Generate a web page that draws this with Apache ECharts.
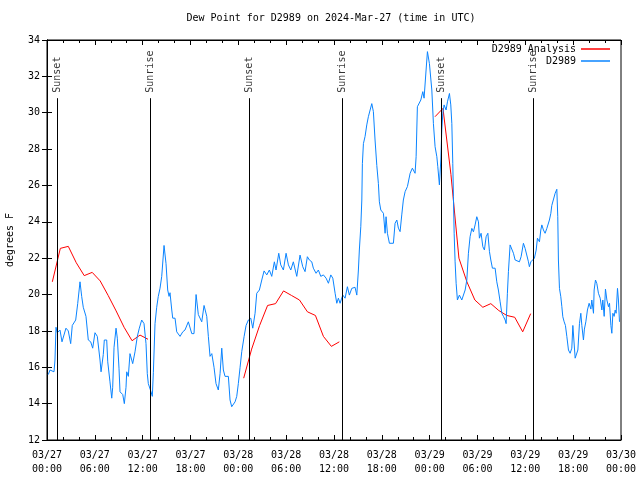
<!DOCTYPE html>
<html><head><meta charset="utf-8">
<script src="https://cdn.jsdelivr.net/npm/echarts@6/dist/echarts.min.js"></script>
<style>html,body{margin:0;padding:0;background:#fff}#c{width:640px;height:480px}</style>
</head><body><div id="c"></div>
<script>
// ---- data (x in hours since 2024-03-27 00:00 UTC) ----
const titleText = 'Dew Point for D2989 on 2024-Mar-27 (time in UTC)';
const yAxisName = 'degrees F';
const xTickLabels = ['03/27\n00:00','03/27\n06:00','03/27\n12:00','03/27\n18:00',
  '03/28\n00:00','03/28\n06:00','03/28\n12:00','03/28\n18:00',
  '03/29\n00:00','03/29\n06:00','03/29\n12:00','03/29\n18:00','03/30\n00:00'];
const seriesNames = ['D2989 Analysis', 'D2989'];
const eventNames = ['Sunset','Sunrise','Sunset','Sunrise','Sunset','Sunrise'];
const eventHours = [1.29, 12.96, 25.38, 37.05, 49.47, 61.0];

// Analysis: hourly values, three segments (null = break)
const redHours = [
  0.67,1.67,2.67,3.67,4.67,5.67,6.67,7.67,8.67,9.67,10.67,11.67,12.67, null,
  24.67,25.67,26.67,27.67,28.67,29.67,30.67,31.67,32.67,33.67,34.67,35.67,36.67, null,
  48.67,49.67,50.67,51.67,52.67,53.67,54.67,55.67,56.67,57.67,58.67,59.67,60.67];
const redValues = [
  20.7,22.54,22.65,21.75,21.04,21.22,20.75,19.95,19.1,18.2,17.46,17.77,17.54, null,
  15.4,17.0,18.3,19.4,19.5,20.2,19.95,19.7,19.05,18.85,17.7,17.15,17.4, null,
  29.78,30.24,26.6,22.0,20.7,19.7,19.3,19.5,19.12,18.85,18.75,17.95,18.95];

// Observations [hour, value]
const bluePoints = [
  [0.16,15.6],[0.38,15.85],[0.88,15.75],[1.0,16.4],[1.13,18.2],[1.29,17.9],[1.63,18.05],[1.88,17.4],
  [2.13,17.3],[2.38,18.15],[2.67,18.0],[2.97,17.3],[3.17,18.3],[3.6,18.6],[3.85,19.5],[4.14,20.7],
  [4.35,19.9],[4.55,19.3],[4.89,18.8],[5.18,17.5],[5.48,17.4],[5.73,17.05],[6.02,17.9],[6.31,17.7],
  [6.65,16.4],[6.78,15.75],[7.06,16.7],[7.19,17.5],[7.49,17.5],[7.62,16.3],[7.9,15.2],[8.12,14.3],
  [8.24,14.9],[8.41,17.1],[8.66,18.15],[8.82,17.6],[9.03,15.95],[9.16,14.65],[9.5,14.5],[9.7,14.0],
  [9.91,14.9],[10.0,15.75],[10.2,15.5],[10.41,16.75],[10.75,16.2],[11.04,16.85],[11.33,17.7],[11.58,18.15],
  [11.88,18.6],[12.17,18.4],[12.42,17.3],[12.58,15.65],[12.71,15.1],[12.92,15.1],[13.05,14.65],[13.21,14.4],
  [13.34,15.7],[13.55,18.4],[13.76,19.3],[13.96,19.9],[14.18,20.35],[14.39,21.0],[14.68,22.7],[14.93,21.7],
  [15.14,20.25],[15.31,19.9],[15.43,20.1],[15.65,19.15],[15.77,18.7],[16.06,18.7],[16.27,17.95],[16.69,17.7],
  [17.03,17.95],[17.31,18.05],[17.73,18.5],[17.94,18.5],[18.16,17.85],[18.44,17.85],[18.7,20.0],[18.98,18.9],
  [19.41,18.5],[19.7,19.4],[20.04,18.8],[20.24,17.7],[20.45,16.6],[20.67,16.75],[20.95,16.0],[21.2,15.1],
  [21.49,14.75],[21.71,15.65],[21.92,17.05],[22.12,15.85],[22.33,15.5],[22.75,15.5],[22.96,14.2],[23.17,13.83],
  [23.38,13.83],[23.59,14.1],[23.8,14.4],[24.0,15.1],[24.22,16.0],[24.43,16.86],[24.72,17.68],[24.97,18.3],
  [25.26,18.6],[25.56,18.7],[25.81,18.15],[26.1,18.97],[26.31,20.07],[26.64,20.25],[26.94,20.8],[27.23,21.3],
  [27.57,21.08],[27.89,21.35],[28.19,21.0],[28.52,21.8],[28.73,21.35],[29.07,22.27],[29.32,21.63],[29.65,21.35],
  [29.99,22.27],[30.28,21.63],[30.58,21.35],[30.9,21.8],[31.33,21.0],[31.74,22.17],[32.08,21.53],[32.37,21.26],
  [32.66,22.08],[32.91,21.9],[33.21,21.8],[33.41,21.45],[33.75,21.17],[34.04,21.35],[34.34,21.0],[34.67,21.08],
  [35.01,20.9],[35.3,20.62],[35.6,21.08],[35.85,20.9],[36.14,20.07],[36.35,19.52],[36.55,19.8],[36.76,19.52],
  [37.1,19.97],[37.39,19.8],[37.68,20.43],[37.93,19.97],[38.23,20.34],[38.64,20.4],[38.86,19.97],[39.06,21.35],
  [39.18,22.45],[39.36,23.73],[39.49,25.2],[39.56,27.2],[39.69,28.3],[39.9,28.7],[40.11,29.33],[40.31,29.78],
  [40.53,30.15],[40.74,30.5],[40.94,30.06],[41.15,28.5],[41.37,27.1],[41.57,26.1],[41.69,25.1],[41.87,24.65],
  [42.2,24.47],[42.41,23.37],[42.53,24.28],[42.7,23.37],[42.95,22.82],[43.45,22.82],[43.66,23.92],[43.88,24.1],
  [44.08,23.65],[44.29,23.46],[44.5,24.38],[44.7,25.2],[44.92,25.66],[45.21,25.94],[45.55,26.67],[45.83,26.95],
  [46.17,26.67],[46.3,27.58],[46.46,30.33],[46.71,30.3],[46.89,30.7],[47.14,31.16],[47.3,30.8],[47.55,32.35],
  [47.72,33.36],[47.97,32.7],[48.27,31.25],[48.47,29.4],[48.68,28.13],[48.9,27.58],[49.02,27.03],[49.22,26.03],
  [49.4,27.4],[49.52,29.05],[49.65,29.97],[49.81,30.43],[50.06,30.15],[50.23,30.6],[50.48,31.06],[50.65,30.43],
  [50.78,29.4],[50.9,27.2],[50.98,25.4],[51.07,23.37],[51.19,21.8],[51.32,20.62],[51.48,19.7],[51.73,19.97],
  [52.03,19.7],[52.23,19.7],[52.45,20.25],[52.66,20.8],[52.86,22.27],[53.07,23.18],[53.29,23.64],[53.49,23.45],
  [53.7,23.83],[53.91,24.28],[54.12,24.0],[54.24,23.1],[54.45,23.37],[54.67,22.63],[54.87,22.45],[55.08,23.18],
  [55.3,23.37],[55.5,22.36],[55.67,21.9],[55.87,21.45],[56.21,21.45],[56.42,20.7],[56.62,20.25],[56.84,19.6],
  [57.05,18.97],[57.25,18.8],[57.47,18.6],[57.59,18.4],[57.75,20.07],[57.88,21.26],[58.09,22.73],[58.3,22.8],
  [58.51,22.27],[58.72,21.9],[58.93,21.8],[59.26,21.8],[59.47,22.08],[59.76,22.82],[59.97,22.54],[60.19,22.54],
  [60.39,21.8],[60.51,21.53],[60.69,21.8],[60.94,21.8],[61.14,22.0],[61.36,22.45],[61.52,23.1],[61.77,22.9],
  [61.94,23.55],[62.07,23.83],[62.27,23.55],[62.48,23.37],[62.7,23.64],[63.02,24.1],[63.2,24.47],[63.32,24.9],
  [63.53,24.9],[63.74,25.57],[63.95,25.79],[64.07,24.28],[64.15,21.9],[64.28,20.34],[64.45,19.88],[64.58,19.33],
  [64.7,18.78],[64.87,18.5],[65.03,18.3],[65.21,17.68],[65.41,16.95],[65.62,16.77],[65.83,17.05],[65.96,18.3],
  [66.12,18.23],[66.25,16.5],[66.46,16.5],[66.59,16.95],[66.79,18.4],[66.96,18.97],[67.09,18.3],[67.29,17.5],
  [67.41,18.1],[67.59,18.5],[67.79,19.15],[68.0,19.52],[68.22,19.2],[68.34,19.7],[68.55,18.97],[68.63,20.25],
  [68.8,20.8],[68.97,20.6],[69.17,20.07],[69.39,19.8],[69.6,19.15],[69.72,19.7],[69.89,18.8],[70.05,20.3],
  [70.23,19.7],[70.43,19.33],[70.56,19.52],[70.73,18.3],[70.85,17.87],[70.98,18.97],[71.14,18.8],[71.27,19.15],
  [71.39,18.97],[71.56,20.34],[71.68,19.7],[71.81,18.5]];

const FONT = 'DejaVu Sans Mono';
const EVENT_LINE_TOP = 30.8, EVENT_LABEL_Y = 31.1;

// build analysis line data; null entries become gaps
const redData = [];
redHours.forEach((h, i) => {
  if (h === null) redData.push([redHours[i - 1], '-']);
  else redData.push([h, redValues[i]]);
});

const chart = echarts.init(document.getElementById('c'), null, {renderer: 'canvas'});
const txt = {fontFamily: FONT, fontSize: 10, color: '#000'};
const xCommon = {type: 'value', min: 0, max: 72, interval: 6,
  axisLine: {show: true, lineStyle: {color: '#000', width: 1}},
  splitLine: {show: false},
  axisTick: {show: true, inside: true, length: 5, lineStyle: {color: '#000'}},
  minorTick: {show: true, splitNumber: 3, length: 3, lineStyle: {color: '#000'}}};
const yCommon = {type: 'value', min: 12, max: 34, interval: 2,
  axisLine: {show: true, lineStyle: {color: '#000', width: 1}},
  splitLine: {show: false},
  axisTick: {show: true, inside: true, length: 5, lineStyle: {color: '#000'}}};

chart.setOption({
  backgroundColor: '#fff',
  animation: false,
  title: {text: titleText, left: 331, top: 13, textAlign: 'center', padding: 0,
    textStyle: Object.assign({fontWeight: 'normal'}, txt)},
  grid: {left: 47, right: 19, top: 40, bottom: 40, containLabel: false, outerBoundsMode: 'none',
    show: true, borderColor: '#000', borderWidth: 1, backgroundColor: 'transparent'},
  legend: [
    {data: [seriesNames[0]], right: 30, top: 44, padding: 0, align: 'right', orient: 'vertical',
      icon: 'rect', itemWidth: 29, itemHeight: 1.5, textStyle: txt},
    {data: [seriesNames[1]], right: 30, top: 56, padding: 0, align: 'right', orient: 'vertical',
      icon: 'rect', itemWidth: 29, itemHeight: 1.5, textStyle: txt}
  ],
  xAxis: [
    Object.assign({}, xCommon, {position: 'bottom',
      axisLabel: Object.assign({margin: 8, lineHeight: 14,
        formatter: v => xTickLabels[Math.round(v / 6)] || ''}, txt)}),
    Object.assign({}, xCommon, {position: 'top', axisLabel: {show: false}})
  ],
  yAxis: [
    Object.assign({}, yCommon, {position: 'left', name: yAxisName, nameLocation: 'middle', nameGap: 32,
      nameTextStyle: txt, axisLabel: Object.assign({margin: 7}, txt)}),
    Object.assign({}, yCommon, {position: 'right', axisLabel: {show: false}})
  ],
  series: [
    {name: seriesNames[0], type: 'line', xAxisIndex: 0, yAxisIndex: 0, data: redData,
      symbol: 'none', connectNulls: false, color: '#ff0000',
      lineStyle: {color: '#ff0000', width: 1}, z: 2},
    {name: seriesNames[1], type: 'line', xAxisIndex: 0, yAxisIndex: 0, data: bluePoints,
      symbol: 'none', color: '#0a84ff',
      lineStyle: {color: '#0a84ff', width: 1}, z: 3},
    {name: 'events', type: 'scatter', xAxisIndex: 0, yAxisIndex: 0, silent: true, z: 5,
      symbolSize: 0,
      data: eventHours.map(h => [h, EVENT_LABEL_Y]),
      label: Object.assign({show: true, position: 'inside', rotate: 90, align: 'left', verticalAlign: 'middle',
        formatter: p => eventNames[p.dataIndex]}, txt),
      markLine: {silent: true, symbol: 'none', animation: false,
        label: {show: false},
        lineStyle: {color: '#000', width: 1, type: 'solid'},
        data: eventHours.map(h => [{coord: [h, 12]}, {coord: [h, EVENT_LINE_TOP]}])}
    }
  ]
});
</script></body></html>
